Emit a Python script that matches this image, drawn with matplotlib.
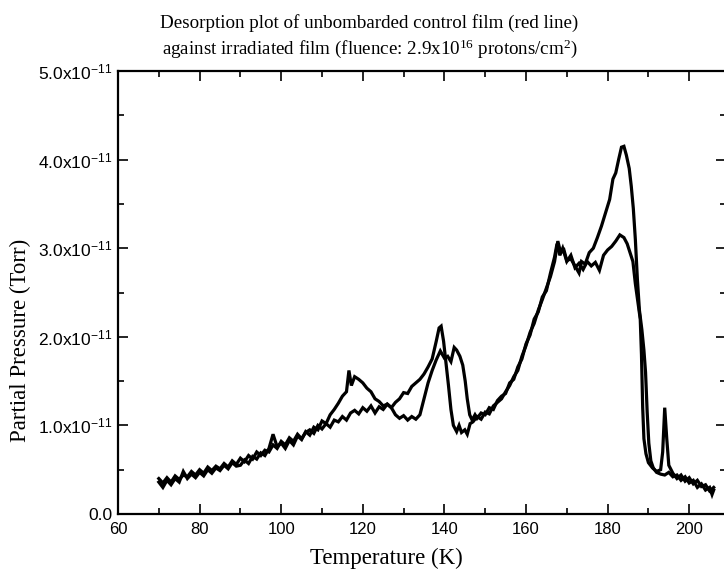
import matplotlib
matplotlib.use("Agg")
import matplotlib.pyplot as plt
from matplotlib.ticker import MultipleLocator, FuncFormatter

# partial pressure traces, temperature in K, pressure in units of 1e-11 Torr
temp_a = [70, 71, 72, 73, 74, 75, 76, 77, 78, 79, 80, 81, 82, 83, 84, 85, 86, 87, 88, 89,
          90, 91, 92, 93, 94, 95, 96, 97, 98, 99, 100, 101, 102, 103, 104, 105, 106, 107, 108, 109,
          110, 111, 112, 113, 114, 115, 116, 116.6, 117.2, 118, 119, 120, 121, 122, 123, 124, 125, 126, 127, 128,
          129, 130, 131, 132, 133, 134, 135, 136, 137, 138, 138.7, 139.2, 139.8, 140.4, 141, 141.6, 142.2, 143, 143.6, 144.2,
          145, 145.6, 146.3, 147, 148, 149, 150, 151, 152, 153, 154, 155, 156, 157, 158, 159, 160, 161, 162, 163,
          164, 165, 166, 167, 167.8, 168.5, 169.3, 170, 171, 172, 173, 173.6, 174.5, 175.5, 176.5, 177.5, 178.5, 179.5, 180.5, 181.3,
          182, 182.7, 183.4, 184, 184.6, 185.3, 185.8, 186.3, 186.8, 187.3, 187.8, 188.4, 188.9, 189.3, 189.7, 190.1, 190.6, 191.2, 192, 193,
          194, 195, 196, 197, 198, 199, 200, 201, 202, 203, 204, 205, 205.6, 206]
press_a = [0.36, 0.30, 0.38, 0.33, 0.40, 0.36, 0.48, 0.40, 0.45, 0.41, 0.47, 0.43, 0.50, 0.46, 0.52, 0.49, 0.55, 0.51, 0.58, 0.54,
           0.55, 0.61, 0.57, 0.65, 0.62, 0.69, 0.66, 0.74, 0.90, 0.76, 0.80, 0.74, 0.83, 0.78, 0.88, 0.84, 0.93, 0.89, 0.98, 0.95,
           1.05, 1.02, 1.12, 1.18, 1.25, 1.33, 1.38, 1.62, 1.45, 1.55, 1.52, 1.48, 1.42, 1.38, 1.30, 1.27, 1.22, 1.24, 1.20, 1.26,
           1.30, 1.37, 1.36, 1.44, 1.48, 1.52, 1.58, 1.66, 1.75, 1.95, 2.10, 2.12, 1.95, 1.70, 1.45, 1.18, 1.00, 0.93, 1.00, 0.92,
           0.95, 0.90, 1.02, 1.04, 1.10, 1.07, 1.15, 1.13, 1.22, 1.26, 1.30, 1.38, 1.45, 1.55, 1.62, 1.78, 1.90, 2.05, 2.15, 2.30,
           2.42, 2.55, 2.68, 2.85, 3.08, 2.95, 2.98, 2.86, 2.88, 2.80, 2.72, 2.85, 2.82, 2.95, 3.00, 3.12, 3.25, 3.40, 3.55, 3.78,
           3.85, 4.00, 4.14, 4.15, 4.05, 3.90, 3.70, 3.45, 3.10, 2.65, 2.30, 2.08, 1.85, 1.60, 1.15, 0.80, 0.60, 0.52, 0.47, 0.45,
           0.44, 0.47, 0.42, 0.44, 0.38, 0.42, 0.35, 0.38, 0.30, 0.34, 0.27, 0.30, 0.22, 0.27]

temp_b = [70, 71, 72, 73, 74, 75, 76, 77, 78, 79, 80, 81, 82, 83, 84, 85, 86, 87, 88, 89,
          90, 91, 92, 93, 94, 95, 96, 97, 98, 99, 100, 101, 102, 103, 104, 105, 106, 107, 108, 109,
          110, 111, 112, 113, 114, 115, 116, 117, 118, 119, 120, 121, 122, 123, 124, 125, 126, 127, 128, 129,
          130, 131, 132, 133, 134, 135, 136, 137, 138, 139, 140, 140.8, 141.6, 142.4, 143, 143.8, 144.5, 145.1, 145.6, 146.2,
          146.8, 147.5, 148, 149, 150, 151, 152, 153, 154, 155, 156, 157, 158, 159, 160, 161, 162, 163, 164, 165,
          166, 167, 167.6, 168.3, 169, 170, 171, 172, 173, 174, 175, 176, 177, 178, 179, 180, 181, 182, 183, 184,
          184.8, 185.5, 186.2, 186.8, 187.4, 188, 188.3, 188.6, 188.9, 189.4, 190, 191, 192, 193, 193.5, 194, 194.5, 195, 196, 197,
          198, 199, 200, 201, 202, 203, 204, 205, 206]
press_b = [0.40, 0.35, 0.41, 0.36, 0.43, 0.39, 0.44, 0.42, 0.48, 0.44, 0.50, 0.46, 0.53, 0.49, 0.54, 0.51, 0.57, 0.53, 0.60, 0.56,
           0.63, 0.59, 0.66, 0.62, 0.70, 0.66, 0.72, 0.70, 0.78, 0.74, 0.82, 0.78, 0.86, 0.82, 0.90, 0.85, 0.92, 0.95, 0.91, 1.00,
           0.96, 1.02, 0.98, 1.06, 1.04, 1.10, 1.06, 1.14, 1.17, 1.13, 1.20, 1.16, 1.22, 1.14, 1.21, 1.18, 1.24, 1.20, 1.12, 1.08,
           1.11, 1.06, 1.10, 1.07, 1.12, 1.30, 1.48, 1.62, 1.74, 1.84, 1.76, 1.78, 1.72, 1.88, 1.85, 1.78, 1.68, 1.50, 1.30, 1.12,
           1.06, 1.12, 1.08, 1.14, 1.12, 1.20, 1.18, 1.28, 1.33, 1.36, 1.48, 1.52, 1.66, 1.75, 1.92, 2.02, 2.20, 2.28, 2.45, 2.52,
           2.72, 2.90, 3.05, 2.92, 3.00, 2.85, 2.92, 2.78, 2.83, 2.76, 2.85, 2.80, 2.84, 2.75, 2.92, 2.98, 3.02, 3.08, 3.15, 3.12,
           3.05, 2.95, 2.85, 2.60, 2.40, 2.20, 1.80, 1.20, 0.85, 0.68, 0.58, 0.52, 0.48, 0.50, 0.70, 1.20, 0.85, 0.55, 0.46, 0.40,
           0.44, 0.37, 0.41, 0.34, 0.38, 0.31, 0.33, 0.26, 0.30]

y_ticks = [0, 1, 2, 3, 4, 5]

serif = "Liberation Serif"
sans = "Liberation Sans"
plt.rcParams["mathtext.fontset"] = "custom"
plt.rcParams["mathtext.rm"] = sans


def y_label(v, pos):
    if v == 0:
        return "0.0"
    return r"$\mathregular{%.1fx10^{-11}}$" % v


fig = plt.figure(figsize=(7.24, 5.79), dpi=100)
ax = fig.add_axes([118 / 724, 1 - 514 / 579, 608 / 724, 443 / 579])

for t, p in [(temp_a, press_a), (temp_b, press_b)]:
    ax.plot(t, p, color="black", lw=2.3, solid_joinstyle="miter")

ax.set_xlim(60, 60 + 608 / 4.08)
ax.set_ylim(0, 5)
ax.xaxis.set_major_locator(MultipleLocator(20))
ax.xaxis.set_minor_locator(MultipleLocator(10))
ax.set_yticks(y_ticks)
ax.yaxis.set_minor_locator(MultipleLocator(0.5))
ax.yaxis.set_major_formatter(FuncFormatter(y_label))

ax.tick_params(which="both", direction="in", top=True, right=True, width=1.2)
ax.tick_params(which="major", length=7)
ax.tick_params(which="minor", length=4)
ax.tick_params(axis="x", pad=6)
ax.tick_params(axis="y", pad=4)
for lab in ax.get_xticklabels():
    lab.set_fontfamily(sans)
    lab.set_fontsize(12)
for lab in ax.get_yticklabels():
    lab.set_fontfamily(sans)
    lab.set_fontsize(12.5)
for s in ax.spines.values():
    s.set_linewidth(1.6)

ax.set_xlabel("Temperature (K)", fontfamily=serif, fontsize=16.5)
ax.xaxis.set_label_coords((386 - 118) / 608, (514 - 548) / 443)
ax.set_ylabel("Partial Pressure (Torr)", fontfamily=serif, fontsize=16.5)
ax.yaxis.set_label_coords((31 - 118) / 608, (514 - 340) / 443)

plt.rcParams["mathtext.rm"] = serif
fig.text(0.51, 1 - 23 / 579, "Desorption plot of unbombarded control film (red line)",
         ha="center", va="center", fontfamily=serif, fontsize=13.7)
fig.text(0.511, 1 - 49 / 579,
         r"against irradiated film (fluence: 2.9x10$\mathregular{^{16}}$ protons/cm$\mathregular{^{2}}$)",
         ha="center", va="center", fontfamily=serif, fontsize=13.7)

fig.savefig("out.png", dpi=100)
